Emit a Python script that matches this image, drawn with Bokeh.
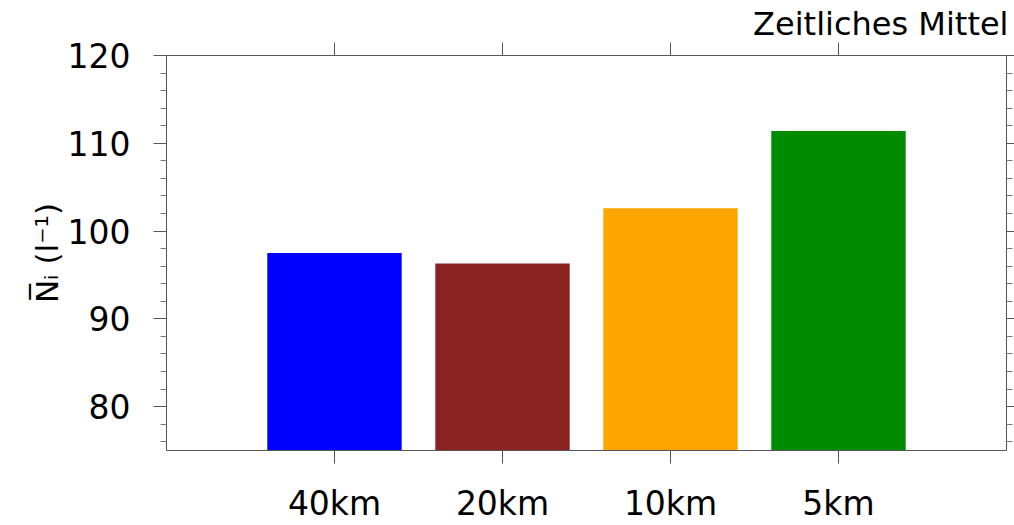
from bokeh.plotting import figure
from bokeh.models import Range1d, FixedTicker, LinearAxis, ColumnDataSource
from bokeh.embed import file_html
from bokeh.resources import INLINE

# Time-mean ice number concentration per model resolution
resolutions = ["40km", "20km", "10km", "5km"]
mean_ni = [97.5, 96.3, 102.6, 111.4]
bar_colors = ["#0000FF", "#8B2323", "#FFA500", "#008B00"]

y_major_ticks = [80, 90, 100, 110, 120]
y_minor_ticks = [76, 78, 82, 84, 86, 88, 92, 94, 96, 98,
                 102, 104, 106, 108, 112, 114, 116, 118]
Y_MIN, Y_MAX = 75, 120

title_text = "Zeitliches Mittel"
y_label = "N\u0305\u1d62 (l\u207b\u00b9)"

FONT = "DejaVu Sans"
AXIS_COLOR = "#555555"

xpos = list(range(1, len(resolutions) + 1))
X_MIN, X_MAX = 0, len(resolutions) + 1

source = ColumnDataSource(dict(x=xpos, top=mean_ni, color=bar_colors, name=resolutions))

p = figure(width=1014, height=525, output_backend="svg", toolbar_location=None,
           x_range=Range1d(X_MIN, X_MAX), y_range=Range1d(Y_MIN, Y_MAX),
           min_border_left=166, min_border_right=8,
           min_border_top=55, min_border_bottom=74,
           x_axis_location=None, y_axis_location=None)
p.outline_line_color = None
p.xgrid.visible = False
p.ygrid.visible = False
p.background_fill_color = "white"
p.border_fill_color = "white"

p.title.text = title_text
p.title.align = "right"
p.title.text_font = FONT
p.title.text_font_size = "32px"
p.title.text_font_style = "normal"
p.title.text_color = "black"
p.title.standoff = 0
p.title.offset = -2

p.vbar(x="x", top="top", bottom=Y_MIN, width=0.8, fill_color="color",
       line_color=None, source=source)


def make_axis(ticker, tick_out, minor_out, labels=True, overrides=None):
    ax = LinearAxis(ticker=ticker)
    ax.axis_line_color = AXIS_COLOR
    ax.axis_line_width = 1
    ax.major_tick_line_color = AXIS_COLOR
    ax.minor_tick_line_color = "#777777"
    ax.major_tick_in = 0
    ax.minor_tick_in = 0
    ax.major_tick_out = tick_out
    ax.minor_tick_out = minor_out
    if overrides:
        ax.major_label_overrides = overrides
    if labels:
        ax.major_label_text_font = FONT
        ax.major_label_text_font_size = "33px"
        ax.major_label_text_color = "black"
    else:
        ax.major_label_text_font_size = "0px"
        ax.major_label_standoff = 0
        ax.major_label_overrides = {t: "" for t in ticker.ticks}
    return ax


x_bottom = make_axis(FixedTicker(ticks=xpos, minor_ticks=[]), 13, 0,
                     overrides={x: n for x, n in zip(xpos, resolutions)})
x_bottom.major_label_standoff = 20
x_top = make_axis(FixedTicker(ticks=xpos, minor_ticks=[]), 13, 0, labels=False)

y_left = make_axis(FixedTicker(ticks=y_major_ticks, minor_ticks=y_minor_ticks), 13, 6)
y_left.major_label_standoff = 23
y_left.axis_label = y_label
y_left.axis_label_text_font = FONT
y_left.axis_label_text_font_size = "31px"
y_left.axis_label_text_font_style = "normal"
y_left.axis_label_text_color = "black"
y_left.axis_label_standoff = 0
y_right = make_axis(FixedTicker(ticks=y_major_ticks, minor_ticks=y_minor_ticks), 8, 6,
                    labels=False)

p.add_layout(x_bottom, "below")
p.add_layout(x_top, "above")
p.add_layout(y_left, "left")
p.add_layout(y_right, "right")

open("out.html", "w").write(file_html(p, INLINE))
